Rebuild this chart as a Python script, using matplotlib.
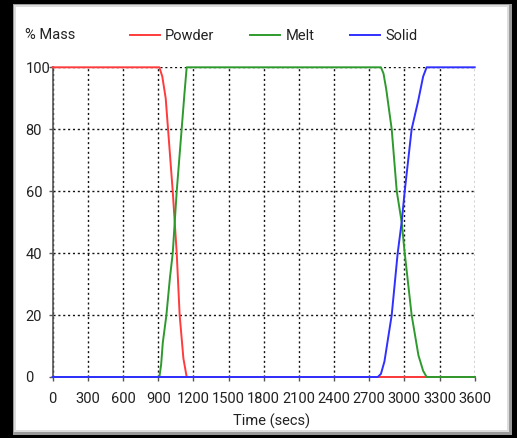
import matplotlib
matplotlib.use('Agg')
import matplotlib.pyplot as plt
from matplotlib.patches import Rectangle

plt.rcParams['font.family'] = ['Roboto', 'DejaVu Sans']

# values (time in secs, % mass)
powder_t = [0, 910, 935, 964, 984, 1024, 1041, 1058, 1083, 1115, 1143, 3600]
powder_v = [100, 100, 97, 90, 80, 60, 50, 40, 20, 6, 0, 0]

melt_t = [0, 910, 925, 939, 970, 1000, 1024, 1041, 1058, 1100, 1125, 1143,
          2800, 2822, 2845, 2892, 2935, 2977, 3003, 3062, 3120, 3160, 3190, 3600]
melt_v = [0, 0, 4, 11, 20, 32, 40, 50, 60, 80, 92, 100,
          100, 98, 93, 80, 60, 50, 40, 20, 7, 2, 0, 0]

solid_t = [0, 2773, 2800, 2830, 2892, 2943, 2977, 3003, 3062, 3117, 3160, 3190, 3600]
solid_v = [0, 0, 1, 5, 20, 40, 50, 60, 80, 89, 97, 100, 100]

x_ticks = list(range(0, 3601, 300))
y_ticks = [0, 20, 40, 60, 80, 100]

W, H = 517, 438
fig = plt.figure(figsize=(W / 100, H / 100), dpi=100)
fig.patch.set_facecolor('black')

# window frame
def px_rect(x0, y0, x1, y1, **kw):
    fig.patches.append(Rectangle((x0 / W, 1 - y1 / H), (x1 - x0) / W, (y1 - y0) / H,
                                 transform=fig.transFigure, zorder=-5, **kw))

px_rect(13, 4, 512, 435, facecolor='#9a9a9a', edgecolor='none')
px_rect(14, 5, 509, 432, facecolor='#dcdcdc', edgecolor='none')
px_rect(16, 7, 507, 430, facecolor='white', edgecolor='none')

ax = fig.add_axes([52.7 / W, 61 / H, 422 / W, 309.7 / H])
ax.set_facecolor('none')

ax.plot(powder_t, powder_v, color='#ff3b3b', lw=1.4, clip_on=False, zorder=3, label='Powder')
ax.plot(melt_t, melt_v, color='#2e9a2e', lw=1.4, clip_on=False, zorder=4, label='Melt')
ax.plot(solid_t, solid_v, color='#3030ff', lw=1.4, clip_on=False, zorder=5, label='Solid')

ax.set_xlim(0, 3600)
ax.set_ylim(0, 100)
ax.set_xticks(x_ticks)
ax.set_yticks(y_ticks)
ax.grid(True, color='#111111', lw=1.0, linestyle=(0, (1.5, 2)))

for s in ['top', 'right']:
    ax.spines[s].set_visible(False)
ax.spines['left'].set_color('#555555')
ax.spines['bottom'].set_color('#555555')
ax.spines['left'].set_linewidth(1.2)
ax.spines['bottom'].set_linewidth(1.2)

ax.tick_params(axis='x', length=3, width=1, color='#555555', pad=8, labelsize=10.5, labelcolor='#222222')
ax.tick_params(axis='y', length=3, width=1, color='#555555', pad=16.5, labelsize=10.5, labelcolor='#222222')
for lbl in ax.get_yticklabels():
    lbl.set_horizontalalignment('left')
    lbl.set_verticalalignment('center_baseline')

ax.set_xlabel('Time (secs)', fontsize=10.5, color='#222222')
ax.xaxis.set_label_coords((272 - 52.7) / 422, (377 - 421) / 309.7)
ax.xaxis.label.set_va('center')

fig.text(25 / W, 1 - 35 / H, '% Mass', fontsize=10.5, color='#222222', ha='left', va='center')

fs_px = 10.5 / 72 * 100
ax.legend(loc='center left', bbox_to_anchor=(130 / W, 1 - 36 / H), bbox_transform=fig.transFigure,
          ncol=3, frameon=False, fontsize=10.5, borderpad=0, borderaxespad=0,
          handlelength=30 / fs_px, handletextpad=5 / fs_px, columnspacing=36 / fs_px,
          labelcolor='#222222')

fig.savefig('out.png', dpi=100, facecolor=fig.get_facecolor())
